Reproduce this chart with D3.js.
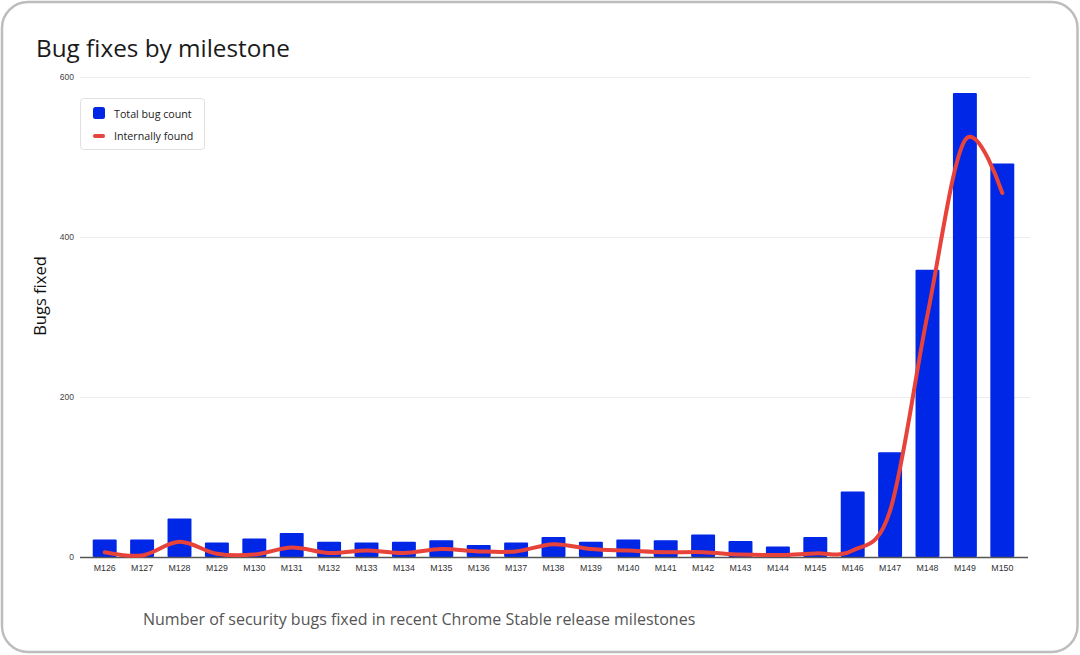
<!DOCTYPE html>
<html>
<head>
<meta charset="utf-8">
<script src="https://cdn.jsdelivr.net/npm/d3@7/dist/d3.min.js"></script>
<style>
  html, body { margin: 0; padding: 0; background: #fff; }
  svg { display: block; }
</style>
</head>
<body>
<svg id="chart" width="1080" height="655"></svg>
<script>
const categories = ["M126","M127","M128","M129","M130","M131","M132","M133","M134","M135","M136","M137","M138","M139","M140","M141","M142","M143","M144","M145","M146","M147","M148","M149","M150"];
const totalBugs = [22,22,48,18,23,30,19,18,19,21,15,18,25,19,22,21,28,20,13,25,82,131,359,580,492];
const internallyFound = [6,2,19,4,3,12,5,8,5,10,7,7,16,10,8,6,6,3,2.5,4.5,8,58,303,521,455];
const yTicks = [0,200,400,600];

const svg = d3.select("#chart");
const W = 1080, H = 655;
const font = "'Open Sans', Roboto, 'DejaVu Sans', sans-serif";
const tickFont = "'Liberation Sans', Arial, sans-serif";

// outer frame
svg.append("rect")
  .attr("x", 2).attr("y", 2).attr("width", W - 4.5).attr("height", H - 5)
  .attr("rx", 26).attr("ry", 26)
  .attr("fill", "#fff").attr("stroke", "#bdbdbd").attr("stroke-width", 2.5);

const plot = { left: 86, right: 1021, top: 77, bottom: 557 };

const x = d3.scaleBand().domain(categories).range([plot.left, plot.right]).paddingInner(0.36).paddingOuter(0.18);
const y = d3.scaleLinear().domain([0, 600]).range([plot.bottom, plot.top]);

// title
svg.append("text")
  .attr("x", 36).attr("y", 57)
  .attr("font-family", font).attr("font-size", 24.3).attr("fill", "#1a1a1a")
  .text("Bug fixes by milestone");

// gridlines + y labels
const yAxis = d3.axisLeft(y).tickValues(yTicks).tickSize(-(1030 - 80)).tickPadding(6);
const gy = svg.append("g").attr("transform", `translate(80,0)`).call(yAxis);
gy.select(".domain").remove();
gy.selectAll(".tick line").attr("stroke", "#ececec").attr("stroke-width", 1);
gy.selectAll(".tick text").attr("font-family", tickFont).attr("font-size", 8.5).attr("fill", "#444");
gy.selectAll(".tick").filter(d => d === 0).select("line").remove();

// y-axis title
svg.append("text")
  .attr("transform", "translate(46,296) rotate(-90)")
  .attr("text-anchor", "middle")
  .attr("font-family", font).attr("font-size", 16.5).attr("fill", "#111")
  .text("Bugs fixed");

// bars
svg.append("g").selectAll("rect").data(categories).join("rect")
  .attr("x", d => x(d))
  .attr("width", x.bandwidth())
  .attr("y", (d, i) => y(totalBugs[i]))
  .attr("height", (d, i) => y(0) - y(totalBugs[i]))
  .attr("fill", "#0026e6")
  .attr("rx", 1);

// x axis
const xAxis = d3.axisBottom(x).tickSize(0).tickPadding(8);
const gx = svg.append("g").attr("transform", `translate(0,${plot.bottom})`).call(xAxis);
gx.select(".domain").remove();
gx.selectAll(".tick text").attr("font-family", tickFont).attr("font-size", 8.8).attr("fill", "#333");
svg.append("line")
  .attr("x1", 80).attr("x2", 1028).attr("y1", plot.bottom + 0.5).attr("y2", plot.bottom + 0.5)
  .attr("stroke", "#555").attr("stroke-width", 1.3);

// line
const line = d3.line()
  .x((d, i) => x(categories[i]) + x.bandwidth() / 2)
  .y(d => y(d))
  .curve(d3.curveCardinal.tension(0));
svg.append("path")
  .datum(internallyFound)
  .attr("d", line)
  .attr("fill", "none")
  .attr("stroke", "#e8433a")
  .attr("stroke-width", 4)
  .attr("stroke-linecap", "round")
  .attr("stroke-linejoin", "round");

// legend
const lg = svg.append("g");
lg.append("rect")
  .attr("x", 80.5).attr("y", 98.5).attr("width", 124).attr("height", 51)
  .attr("rx", 3).attr("fill", "#fff").attr("stroke", "#e0e0e0");
lg.append("rect")
  .attr("x", 93).attr("y", 107).attr("width", 12).attr("height", 12)
  .attr("rx", 2.5).attr("fill", "#0026e6");
lg.append("line")
  .attr("x1", 95).attr("x2", 103).attr("y1", 136).attr("y2", 136)
  .attr("stroke", "#e8433a").attr("stroke-width", 4).attr("stroke-linecap", "round");
lg.append("text").attr("x", 114).attr("y", 117.5)
  .attr("font-family", font).attr("font-size", 10.7).attr("fill", "#222")
  .text("Total bug count");
lg.append("text").attr("x", 114).attr("y", 139.5)
  .attr("font-family", font).attr("font-size", 10.7).attr("fill", "#222")
  .text("Internally found");

// caption
svg.append("text")
  .attr("x", 143).attr("y", 625)
  .attr("font-family", font).attr("font-size", 16).attr("fill", "#555")
  .text("Number of security bugs fixed in recent Chrome Stable release milestones");
</script>
</body>
</html>
